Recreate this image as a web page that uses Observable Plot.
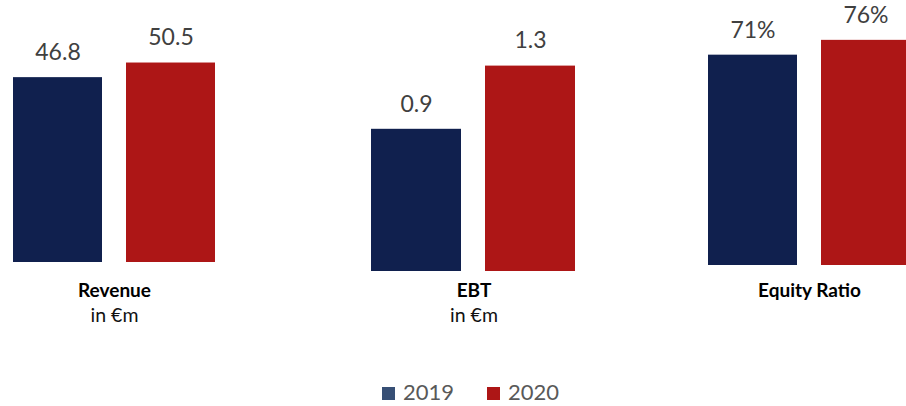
<!DOCTYPE html>
<html><head><meta charset="utf-8">
<script src="https://cdn.jsdelivr.net/npm/d3@7"></script>
<script src="https://cdn.jsdelivr.net/npm/@observablehq/plot@0.6"></script>
<style>
body{margin:0;background:#fff;overflow:hidden}
#chart{position:relative;width:906px;height:406px;overflow:hidden;font-family:Lato,"Open Sans",sans-serif;background:#fff}
.panel{position:absolute;top:0}
#legend{position:absolute;left:382px;top:381px;height:22px;line-height:22px;display:flex;align-items:center;font-size:22px;color:#595959}
.sw{display:inline-block;width:13px;height:13px;margin-right:8px;margin-top:3px}
.item{display:flex;align-items:center;margin-right:33px;height:22px}
</style></head><body><div id="chart"></div>
<script>
const years = ["2019", "2020"];
const metrics = ["Revenue", "EBT", "Equity Ratio"];
const units = ["in €m", "in €m", ""];
const revenue = [46.8, 50.5];
const ebt = [0.9, 1.3];
const equityRatio = [71, 76];
const barColors = ["#10204E", "#AD1616"];
const legendColors = ["#374F75", "#AD1616"];

const chart = document.getElementById("chart");
const series = [revenue, ebt, equityRatio];
const formats = [d3.format(".1f"), d3.format(".1f"), d => d + "%"];
const yMaxes = [60, 1.5, 80];
const layout = [
  {left: 0, width: 230, mL: 12, mR: 14, base: 262},
  {left: 360, width: 230, mL: 11, mR: 14, base: 271},
  {left: 690, width: 230, mL: 17, mR: 9, base: 265}
];
const H = 340, rangeH = 237, labelY = 296, unitY = 321;

metrics.forEach((m, i) => {
  const L = layout[i];
  const data = years.map((y, j) => ({year: y, value: series[i][j]}));
  const plot = Plot.plot({
    width: L.width, height: H,
    marginLeft: L.mL, marginRight: L.mR,
    marginTop: L.base - rangeH, marginBottom: H - L.base,
    style: {fontFamily: "Lato, 'Open Sans', sans-serif", background: "transparent", overflow: "visible"},
    x: {domain: years, paddingInner: 0.21, paddingOuter: 0, axis: null},
    y: {domain: [0, yMaxes[i]], axis: null},
    color: {domain: years, range: barColors},
    marks: [
      Plot.barY(data, {x: "year", y: "value", fill: "year"}),
      Plot.text(data, {x: "year", y: "value", text: d => formats[i](d.value), dy: -25, fontSize: 23, fill: "#404040"}),
      Plot.text([m], {text: d => d, frameAnchor: "bottom", dy: labelY - L.base, fontSize: 19, fontWeight: "bold", fill: "#000"}),
      Plot.text([units[i]], {text: d => d, frameAnchor: "bottom", dy: unitY - L.base, fontSize: 19.5, fill: "#111"})
    ]
  });
  plot.classList.add("panel");
  plot.style.left = L.left + "px";
  chart.appendChild(plot);
});

const legend = document.createElement("div");
legend.id = "legend";
years.forEach((y, j) => {
  const item = document.createElement("div");
  item.className = "item";
  const sw = document.createElement("span");
  sw.className = "sw";
  sw.style.background = legendColors[j];
  item.appendChild(sw);
  item.appendChild(document.createTextNode(y));
  legend.appendChild(item);
});
chart.appendChild(legend);
</script></body></html>
